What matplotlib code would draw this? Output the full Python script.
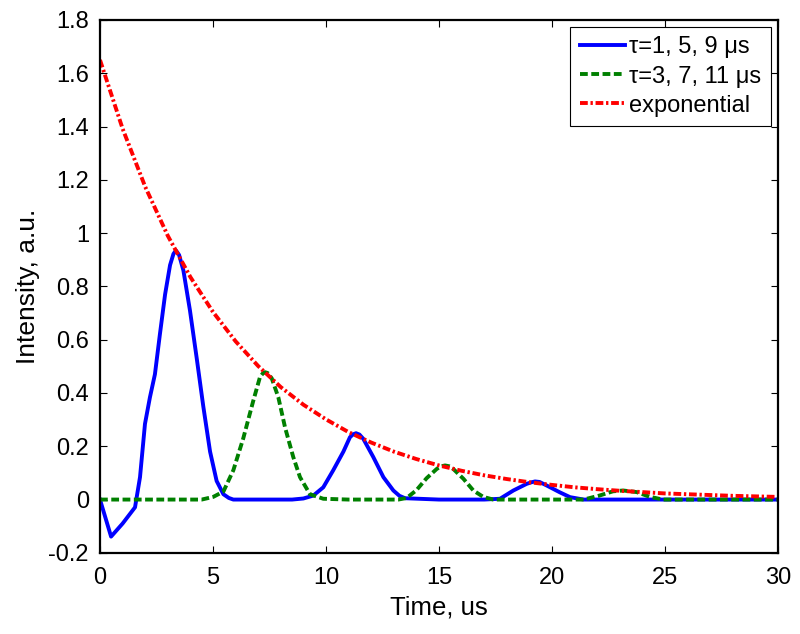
import matplotlib
matplotlib.use("Agg")
import matplotlib.pyplot as plt

plt.rcParams['font.family'] = ['Liberation Sans', 'DejaVu Sans']

# Blue: tau = 1, 5, 9 us
blue_t = [0, 0.49, 1.0, 1.55, 1.77, 1.99, 2.21, 2.43, 2.65, 2.88, 3.1, 3.25, 3.36, 3.5,
          3.69, 3.98, 4.28, 4.57, 4.87, 5.16, 5.46, 5.7, 5.9, 7.0, 8.5, 9.0, 9.44, 9.88,
          10.32, 10.77, 11.06, 11.2, 11.33, 11.48, 11.65, 12.09, 12.54, 12.98, 13.25,
          13.5, 15.0, 17.0, 17.7, 18.29, 18.88, 19.1, 19.25, 19.45, 19.76, 20.35, 20.8,
          21.4, 25.0, 30.0]
blue_y = [0, -0.139, -0.09, -0.029, 0.084, 0.284, 0.384, 0.47, 0.62, 0.77, 0.88, 0.922,
          0.935, 0.918, 0.86, 0.71, 0.53, 0.35, 0.18, 0.07, 0.02, 0.006, 0.0, 0.0, 0.0,
          0.004, 0.015, 0.046, 0.11, 0.18, 0.234, 0.245, 0.249, 0.244, 0.228, 0.16, 0.084,
          0.034, 0.014, 0.005, 0.0, 0.0, 0.003, 0.034, 0.059, 0.065, 0.068, 0.066, 0.053,
          0.027, 0.009, 0.0, 0.0, 0.0]

# Green: tau = 3, 7, 11 us
green_t = [0, 4.5, 5.01, 5.46, 5.9, 6.34, 6.78, 7.08, 7.2, 7.3, 7.42, 7.6, 7.89, 8.19,
           8.55, 8.85, 9.29, 9.88, 11.0, 13.2, 13.57, 14.0, 14.45, 14.9, 15.1, 15.27,
           15.45, 15.63, 16.08, 16.52, 16.96, 17.4, 19.0, 21.4, 22.1, 22.7, 23.15, 23.75,
           24.3, 24.9, 27.0, 30.0]
green_y = [0, 0, 0.01, 0.03, 0.11, 0.23, 0.37, 0.46, 0.473, 0.478, 0.475, 0.455, 0.384,
           0.27, 0.16, 0.084, 0.02, 0.003, 0.0, 0.0, 0.006, 0.035, 0.08, 0.115, 0.125,
           0.128, 0.125, 0.115, 0.078, 0.034, 0.01, 0.0, 0.0, 0.0, 0.015, 0.031, 0.034,
           0.028, 0.011, 0.0, 0.0, 0.0]

# Red: exponential envelope
exp_t = list(range(0, 31))
exp_y = [1.650, 1.392, 1.174, 0.990, 0.835, 0.704, 0.594, 0.501, 0.422, 0.356, 0.301,
         0.253, 0.214, 0.180, 0.152, 0.128, 0.108, 0.091, 0.077, 0.065, 0.055, 0.046,
         0.039, 0.033, 0.028, 0.023, 0.020, 0.017, 0.014, 0.012, 0.010]

labels = ['\u03c4=1, 5, 9 \u03bcs', '\u03c4=3, 7, 11 \u03bcs', 'exponential']
yticks = [-0.2, 0, 0.2, 0.4, 0.6, 0.8, 1, 1.2, 1.4, 1.6, 1.8]
ytick_labels = ['-0.2', '0', '0.2', '0.4', '0.6', '0.8', '1', '1.2', '1.4', '1.6', '1.8']
xticks = [0, 5, 10, 15, 20, 25, 30]

fig = plt.figure(figsize=(8, 6.34), dpi=100)
ax = fig.add_axes([0.125, 0.128, 0.8475, 0.8405])

ax.plot(blue_t, blue_y, color='#0000ff', lw=2.8, label=labels[0])
ax.plot(green_t, green_y, color='#008000', lw=2.8, dashes=(2.0, 0.9), label=labels[1])
ax.plot(exp_t, exp_y, color='#ff0000', lw=2.8, dashes=(2.0, 0.7, 0.6, 0.7), label=labels[2])

ax.set_xlim(0, 30)
ax.set_ylim(-0.2, 1.8)
ax.set_xticks(xticks)
ax.set_xticklabels([str(v) for v in xticks])
ax.set_yticks(yticks)
ax.set_yticklabels(ytick_labels)
ax.tick_params(direction='in', top=True, right=True, length=5, width=0.8,
               labelsize=17)
ax.tick_params(axis='x', pad=10)
ax.tick_params(axis='y', pad=8)
for s in ax.spines.values():
    s.set_linewidth(1.6)

ax.set_xlabel('Time, us', fontsize=18.5, labelpad=5)
ax.set_ylabel('Intensity, a.u.', fontsize=19, labelpad=6)

leg = ax.legend(loc='upper right', fontsize=17, fancybox=False, framealpha=1,
                edgecolor='black', handlelength=1.9, borderpad=0.4, labelspacing=0.3,
                handletextpad=0.2, borderaxespad=0.3)
leg.get_frame().set_linewidth(0.8)

fig.savefig('out.png', dpi=100)
